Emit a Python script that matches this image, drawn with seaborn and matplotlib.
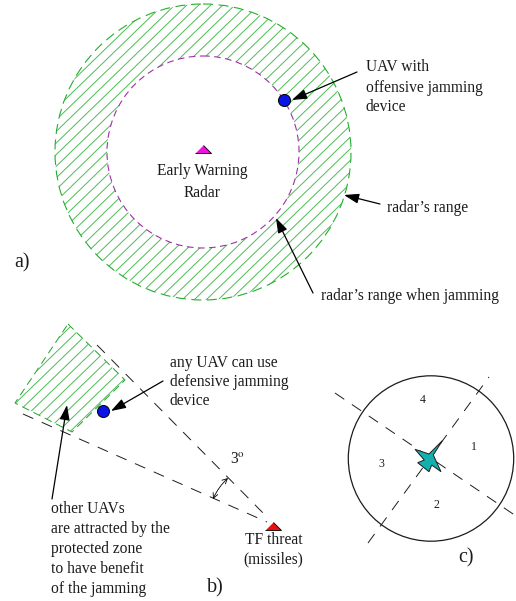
import numpy as np
import matplotlib
matplotlib.use("Agg")
from matplotlib import pyplot as plt
from matplotlib.collections import LineCollection
from matplotlib.patches import Circle, Polygon, PathPatch
from matplotlib.path import Path
import seaborn as sns

# everything is in picture pixels, y going down
radar_xy = (203, 152)
outer_r = 148
inner_r = 96
uav_x = [284, 103]
uav_y = [100, 411]
radar_tri = (203, 149)
threat_tri = (273, 525.5)
zone_x = [68, 125, 72, 15]
zone_y = [324, 380, 432, 403]
beam_x = [[97, 267], [23, 267]]
beam_y = [[345, 517], [414, 522]]
disc_xy = (431, 458.5)
disc_r = 82.7
cross_x = [[335, 516], [368, 489]]
cross_y = [[393, 516], [543, 377]]
plane_x = [442.3, 433.3, 441, 431.7, 429, 417.7, 424.3, 415, 429]
plane_y = [440.7, 455, 471.7, 465, 471.7, 462.7, 460, 449.3, 454]

labels = [
    (366, 71, "UAV with"), (366, 92, "offensive jamming"), (366, 111, "device"),
    (157, 175, "Early Warning"), (184, 197, "Radar"),
    (387, 212, "radar’s range"),
    (321, 300, "radar’s range when jamming"),
    (170, 367, "any UAV can use"), (170, 386, "defensive jamming"), (170, 405, "device"),
    (230, 463, "3$^{\\mathrm{o}}$"),
    (51, 513, "other UAVs"), (51, 533, "are attracted by the"), (51, 553, "protected zone"),
    (51, 573, "to have benefit"), (51, 593, "of the jamming"),
    (245, 544, "TF threat"), (243, 563, "(missiles)"),
]
big_labels = [(14, 267, "a)"), (207, 592, "b)"), (458, 562, "c)")]
small_labels = [(471, 450, "1"), (434, 508, "2"), (378, 467, "3"), (420, 403, "4")]
arrows = [
    ((357, 72), (292, 100)),
    ((380, 204), (344, 195)),
    ((313, 293), (276, 218)),
    ((163, 381), (111, 411)),
    ((52, 499), (67, 405)),
]
dark = "#1c1c1c"

sns.set_theme(style="white")
plt.rcParams["font.family"] = ["Liberation Serif", "DejaVu Serif"]
plt.rcParams["mathtext.fontset"] = "stix"

fig, ax = plt.subplots(figsize=(5.16, 6.01), dpi=100)
fig.subplots_adjust(0, 0, 1, 1)
ax.set_xlim(0, 516)
ax.set_ylim(601, 0)
ax.set_axis_off()


def hatch(clip):
    # slanted lines, xfig style
    c = np.arange(0, 1000, 12)
    segs = [[(v, 0), (v - 620, 600)] for v in c]
    lc = LineCollection(segs, colors="#4cbc55", linewidths=0.7, zorder=1)
    ax.add_collection(lc)
    lc.set_clip_path(clip)


# ring of panel a
th = np.linspace(0, 2 * np.pi, 200)
ring = np.concatenate([
    np.c_[radar_xy[0] + outer_r * np.cos(th), radar_xy[1] + outer_r * np.sin(th)],
    np.c_[radar_xy[0] + inner_r * np.cos(th[::-1]), radar_xy[1] + inner_r * np.sin(th[::-1])],
])
codes = [Path.MOVETO] + [Path.LINETO] * 199 + [Path.MOVETO] + [Path.LINETO] * 199
ring_patch = PathPatch(Path(ring, codes), fc="none", ec="none", transform=ax.transData)
ax.add_patch(ring_patch)
hatch(ring_patch)
ax.add_patch(Circle(radar_xy, outer_r, fc="none", ec="#22b02c", lw=0.8, ls=(0, (9, 5))))
ax.add_patch(Circle(radar_xy, inner_r, fc="none", ec="#a030a8", lw=0.8, ls=(0, (6, 4))))

# protected zone of panel b
zone = Polygon(np.c_[zone_x, zone_y], fc="none", ec="#22a02c", lw=0.7, ls=(0, (8, 5)))
ax.add_patch(zone)
hatch(zone)

# dashed lines
for xs, ys in zip(beam_x + cross_x, beam_y + cross_y):
    sns.lineplot(x=xs, y=ys, ax=ax, color=dark, lw=0.7, sort=False, estimator=None,
                 linestyle=(0, (11.5, 9.5)))

ax.add_patch(Circle(disc_xy, disc_r, fc="none", ec=dark, lw=0.9))
ax.add_patch(Polygon(np.c_[plane_x, plane_y], fc="#14b0b0", ec=dark, lw=0.7, zorder=4))

# markers
sns.scatterplot(x=uav_x, y=uav_y, ax=ax, s=75, color="#0a14e6", edgecolor="black",
                linewidth=0.7, zorder=5)
tri = [(-8, -4), (8, -4), (0, 4)]
sns.scatterplot(x=[radar_tri[0]], y=[radar_tri[1]], ax=ax, marker=tri, s=133, color="#f010e0",
                edgecolor="black", linewidth=0.6, zorder=5)
sns.scatterplot(x=[threat_tri[0]], y=[threat_tri[1]], ax=ax, marker=tri, s=133, color="#e81010",
                edgecolor="black", linewidth=0.6, zorder=5)

# text
for x, y, s in labels:
    ax.text(x, y, s, fontsize=11.2, color=dark, va="baseline")
for x, y, s in big_labels:
    ax.text(x, y, s, fontsize=14.5, color=dark, va="baseline")
for x, y, s in small_labels:
    ax.text(x, y, s, fontsize=8.5, color=dark, va="baseline")

for a, b in arrows:
    ax.annotate("", xy=b, xytext=a,
                arrowprops=dict(arrowstyle="-|>,head_length=0.75,head_width=0.25", lw=0.9,
                                color="black", shrinkA=0, shrinkB=0))
ax.annotate("", xy=(228, 478), xytext=(213, 499),
            arrowprops=dict(arrowstyle="<->,head_length=0.3,head_width=0.15", lw=0.6,
                            color="black", shrinkA=0, shrinkB=0, connectionstyle="arc3,rad=-0.1"))

plt.savefig("out.png", dpi=100)
